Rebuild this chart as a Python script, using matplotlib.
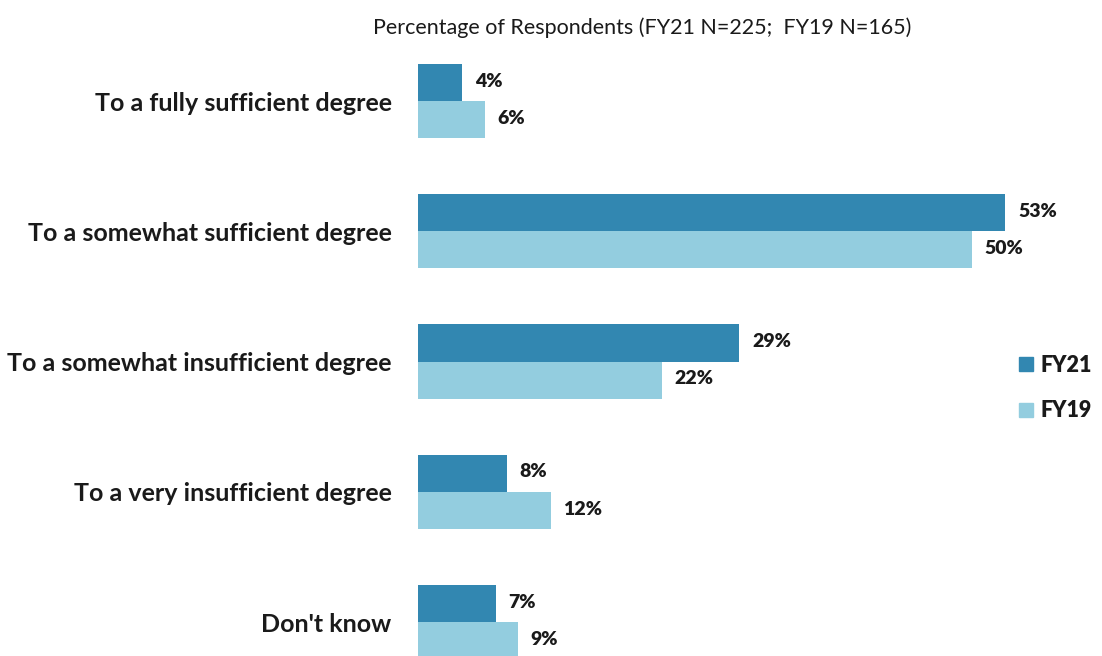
import matplotlib.pyplot as plt
from matplotlib.patches import Patch
import numpy as np

# chart data
categories = [
    "To a fully sufficient degree",
    "To a somewhat sufficient degree",
    "To a somewhat insufficient degree",
    "To a very insufficient degree",
    "Don't know",
]
fy21 = [4, 53, 29, 8, 7]
fy19 = [6, 50, 22, 12, 9]
series_names = ["FY21", "FY19"]
title = "Percentage of Respondents (FY21 N=225;  FY19 N=165)"

COL_FY21 = "#3287b1"
COL_FY19 = "#93cddf"
TXT = "#1a1a1a"

plt.rcParams["font.family"] = ["Lato", "DejaVu Sans"]

fig = plt.figure(figsize=(11.02, 6.56), dpi=100)
ax = fig.add_axes([418 / 1102, 0.0, 665 / 1102, 1 - 49 / 656])

y = np.arange(len(categories))
h = 0.285
b21 = ax.barh(y - h / 2, fy21, height=h, color=COL_FY21)
b19 = ax.barh(y + h / 2, fy19, height=h, color=COL_FY19)

for bars, vals in ((b21, fy21), (b19, fy19)):
    for bar, v in zip(bars, vals):
        ax.annotate(f"{v}%", (bar.get_width(), bar.get_y() + bar.get_height() / 2),
                    xytext=(9, 1), textcoords="offset points", va="center",
                    ha="left", fontsize=14, fontweight="heavy", color=TXT)

ax.set_xlim(0, 60)
ax.set_ylim(4.26, -0.4)
ax.set_yticks(y)
ax.set_yticklabels(categories, fontsize=18, fontweight="bold", color=TXT)
ax.tick_params(axis="y", length=0, pad=19)
ax.set_xticks([])
for s in ax.spines.values():
    s.set_visible(False)

fig.text(642 / 1102, 1 - 28 / 656, title, ha="center", va="center",
         fontsize=15.5, color=TXT)

handles = [Patch(color=COL_FY21), Patch(color=COL_FY19)]
leg = fig.legend(handles, series_names, loc="center left",
                 bbox_to_anchor=(1000 / 1102, 1 - 388 / 656), frameon=False,
                 fontsize=15.5, handlelength=0.65, handleheight=0.65,
                 handletextpad=0.35, labelspacing=1.15)
for t in leg.get_texts():
    t.set_fontweight("heavy")
    t.set_color(TXT)

fig.savefig("out.png", dpi=100)
